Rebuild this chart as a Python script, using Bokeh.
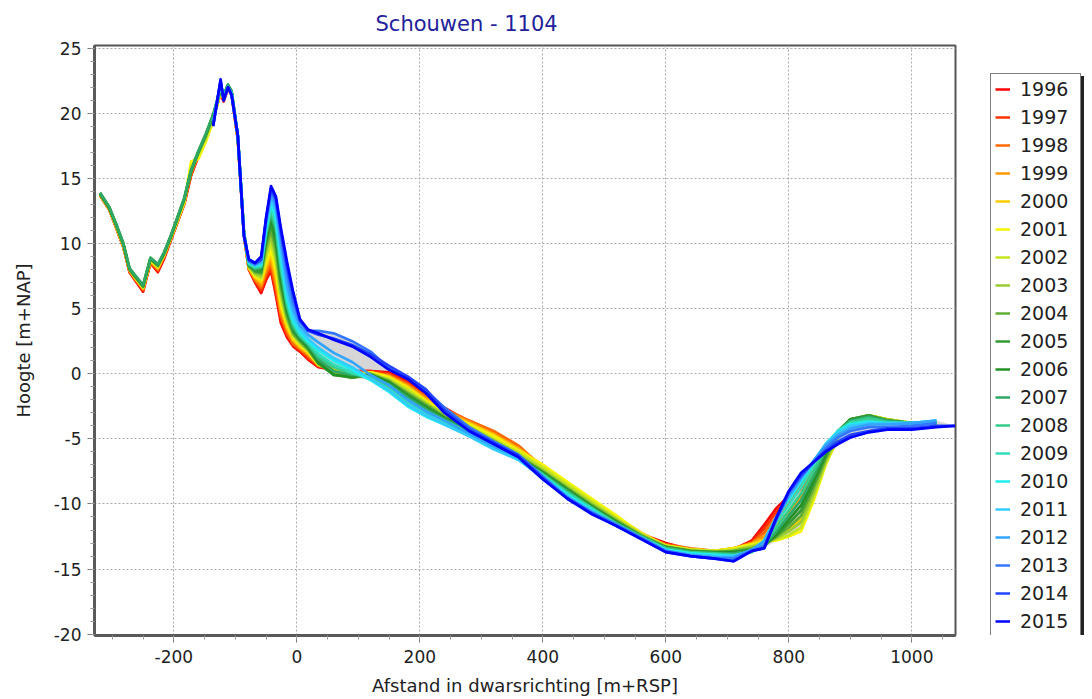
import numpy as np
from bokeh.plotting import figure
from bokeh.layouts import row
from bokeh.models import Range1d, FixedTicker, Legend, LegendItem, PrintfTickFormatter
from bokeh.embed import file_html
from bokeh.resources import INLINE

# distance across the profile [m+RSP]
afstand = [-320, -305, -293, -282, -272, -262, -250, -238, -226, -216, -205, -195, -183, -172, -160, -148, -136, -124, -119, -112, -106, -96, -86,
           -78, -68, -58, -50, -42, -34, -26, -16, -6, 5, 18,
           35, 60, 90, 120, 150, 180, 210, 240, 280, 320, 360, 400, 440, 480, 520, 560, 600, 640, 680, 710, 740,
           760, 780, 800, 820, 840, 860, 880, 900, 930, 960, 1000, 1040, 1070]

years = [1996, 1997, 1998, 1999, 2000, 2001, 2002, 2003, 2004, 2005,
         2006, 2007, 2008, 2009, 2010, 2011, 2012, 2013, 2014, 2015]

colors = ["#ff0000", "#ff3300", "#ff6a00", "#ff9900", "#ffcc00", "#f5f500", "#c4e61e", "#99cc33", "#5fae33", "#339933",
          "#239023", "#2fa866", "#33cc88", "#33ddbb", "#1eeeee", "#33ccff", "#33a4ff", "#3377ff", "#2244ff", "#0000ff"]

h1996 = [13.7, 12.6, 11.1, 9.7, 7.8, 7.1, 6.3, 8.5, 7.8, 8.8, 10.2, 11.5, 13.0, 15.2, 16.7, 18.1, 19.6, 21.5, 20.9, 21.9, 21.4, 18.0, 10.6,
         8.0, 7.0, 6.2, 7.2, 7.9, 6.0, 3.9, 2.8, 2.1, 1.7, 1.1,
         0.5, 0.3, 0.2, 0.2, 0.1, -0.6, -1.6, -2.6, -3.7, -4.6, -5.7, -7.4, -8.8, -10.0, -11.3, -12.3, -13.0, -13.5, -13.6, -13.5, -12.8,
         -11.6, -10.3, -9.4, -8.4, -7.1, -5.6, -4.5, -3.8, -3.5, -3.6, -3.8, -3.7, None]
h1997 = [13.7, 12.6, 11.1, 9.7, 7.8, 7.2, 6.4, 8.5, 7.9, 8.9, 10.3, 11.6, 13.1, 15.3, 16.8, 18.1, 19.6, 21.6, 21.0, 21.9, 21.4, 18.0, 10.6,
         8.0, 7.1, 6.4, 7.4, 8.1, 6.3, 4.2, 3.0, 2.2, 1.8, 1.2,
         0.6, 0.3, 0.2, 0.2, 0.0, -0.7, -1.7, -2.7, -3.6, -4.5, -5.6, -7.3, -8.7, -10.0, -11.4, -12.4, -13.1, -13.5, -13.6, -13.5, -12.9,
         -11.9, -10.6, -9.6, -8.6, -7.2, -5.7, -4.6, -3.8, -3.5, -3.6, -3.8, -3.7, None]
h1998 = [13.7, 12.6, 11.2, 9.8, 7.9, 7.2, 6.5, 8.6, 8.0, 9.0, 10.3, 11.6, 13.2, 15.3, 16.8, 18.2, 19.7, 21.6, 21.1, 22.0, 21.5, 18.1, 10.7,
         8.1, 7.2, 6.6, 7.7, 8.4, 6.7, 4.5, 3.2, 2.3, 1.9, 1.4,
         0.6, 0.4, 0.1, 0.1, -0.1, -0.8, -1.8, -2.7, -3.6, -4.4, -5.5, -7.2, -8.6, -10.1, -11.6, -12.4, -13.1, -13.4, -13.6, -13.4, -13.0,
         -12.2, -11.0, -9.9, -8.8, -7.4, -5.9, -4.6, -3.8, -3.4, -3.6, -3.8, -3.7, None]
h1999 = [13.7, 12.6, 11.2, 9.8, 7.9, 7.3, 6.5, 8.6, 8.1, 9.0, 10.4, 11.7, 13.2, 15.6, 16.8, 18.0, 19.6, 21.6, 21.1, 22.0, 21.5, 18.1, 10.7,
         8.1, 7.3, 6.8, 8.0, 8.7, 7.1, 4.8, 3.4, 2.5, 2.0, 1.5,
         0.7, 0.4, 0.0, 0.1, -0.2, -0.9, -1.9, -2.8, -3.7, -4.6, -5.7, -7.1, -8.5, -9.9, -11.4, -12.3, -13.2, -13.5, -13.6, -13.4, -13.0,
         -12.5, -11.6, -10.6, -9.4, -7.8, -6.1, -4.7, -3.7, -3.3, -3.5, -3.8, -3.7, None]
h2000 = [13.8, 12.7, 11.2, 9.8, 8.0, 7.3, 6.6, 8.7, 8.1, 9.1, 10.4, 11.7, 13.2, 15.9, 16.6, 17.9, 19.5, 21.6, 21.1, 22.0, 21.5, 18.1, 10.7,
         8.1, 7.4, 7.0, 8.3, 9.1, 7.5, 5.1, 3.6, 2.6, 2.1, 1.6,
         0.7, 0.3, -0.1, 0.1, -0.2, -1.0, -2.0, -2.9, -3.8, -4.7, -5.8, -7.0, -8.4, -9.8, -11.0, -12.2, -13.2, -13.5, -13.6, -13.4, -13.1,
         -12.7, -12.4, -12.0, -11.2, -9.0, -6.8, -4.9, -3.7, -3.2, -3.5, -3.8, -3.8, None]
h2001 = [13.8, 12.7, 11.2, 9.8, 8.0, 7.3, 6.6, 8.7, 8.2, 9.1, 10.4, 11.6, 13.1, 16.3, 16.5, 17.8, 19.4, 21.7, 21.2, 22.1, 21.6, 18.2, 10.8,
         8.2, 7.5, 7.2, 8.6, 9.5, 8.0, 5.4, 3.8, 2.8, 2.2, 1.7,
         0.7, 0.2, -0.2, 0.1, -0.3, -1.1, -2.1, -3.0, -3.9, -4.8, -5.9, -7.0, -8.3, -9.6, -10.9, -12.3, -13.2, -13.5, -13.6, -13.4, -13.1,
         -12.9, -12.8, -12.5, -12.1, -9.8, -7.0, -4.9, -3.6, -3.2, -3.5, -3.8, -3.8, None]
h2002 = [13.8, 12.7, 11.3, 9.9, 8.0, 7.4, 6.6, 8.8, 8.2, 9.1, 10.5, 11.7, 13.3, 15.8, 16.8, 18.0, 19.6, 21.7, 21.2, 22.1, 21.6, 18.2, 10.8,
         8.2, 7.6, 7.3, 9.0, 10.0, 8.5, 5.8, 4.0, 2.9, 2.3, 1.8,
         0.7, 0.1, -0.3, 0.0, -0.4, -1.2, -2.2, -3.1, -4.0, -5.0, -6.0, -7.2, -8.5, -9.8, -11.1, -12.3, -13.2, -13.5, -13.6, -13.5, -13.2,
         -12.9, -12.7, -12.4, -11.8, -9.5, -6.9, -4.8, -3.6, -3.2, -3.5, -3.8, -3.8, None]
h2003 = [13.8, 12.7, 11.3, 9.9, 8.0, 7.4, 6.7, 8.8, 8.3, 9.2, 10.5, 11.8, 13.4, 15.6, 17.0, 18.2, 19.7, 21.8, 21.3, 22.1, 21.6, 18.2, 10.8,
         8.2, 7.7, 7.5, 9.4, 10.5, 9.0, 6.2, 4.2, 3.0, 2.4, 1.8,
         0.8, 0.0, -0.3, 0.0, -0.5, -1.4, -2.3, -3.2, -4.1, -5.1, -6.2, -7.4, -8.7, -10.0, -11.2, -12.4, -13.3, -13.6, -13.7, -13.6, -13.3,
         -13.0, -12.6, -12.1, -11.4, -9.2, -6.7, -4.7, -3.5, -3.2, -3.5, -3.8, -3.8, None]
h2004 = [13.8, 12.7, 11.3, 9.9, 8.0, 7.4, 6.7, 8.8, 8.3, 9.2, 10.5, 11.8, 13.4, 15.5, 17.0, 18.3, 19.8, 21.8, 21.3, 22.1, 21.6, 18.2, 10.8,
         8.3, 7.8, 7.7, 9.8, 11.0, 9.5, 6.6, 4.4, 3.1, 2.5, 1.9,
         0.8, 0.0, -0.3, 0.0, -0.6, -1.5, -2.4, -3.3, -4.2, -5.2, -6.3, -7.5, -8.8, -10.1, -11.3, -12.4, -13.3, -13.6, -13.7, -13.6, -13.4,
         -13.1, -12.5, -11.8, -10.9, -8.8, -6.5, -4.6, -3.5, -3.2, -3.6, -3.8, -3.8, None]
h2005 = [13.8, 12.7, 11.3, 9.9, 8.0, 7.4, 6.7, 8.8, 8.3, 9.2, 10.5, 11.8, 13.4, 15.5, 17.0, 18.3, 19.8, 21.8, 21.3, 22.1, 21.6, 18.2, 10.8,
         8.3, 7.9, 7.8, 10.1, 11.5, 10.0, 7.0, 4.7, 3.3, 2.6, 2.0,
         0.8, -0.1, -0.3, -0.1, -0.6, -1.6, -2.5, -3.4, -4.3, -5.3, -6.4, -7.6, -8.9, -10.2, -11.4, -12.5, -13.3, -13.6, -13.7, -13.7, -13.5,
         -13.2, -12.4, -11.5, -10.5, -8.5, -6.3, -4.5, -3.5, -3.2, -3.6, -3.8, -3.8, None]
h2006 = [13.9, 12.8, 11.4, 10.0, 8.1, 7.5, 6.8, 8.9, 8.4, 9.3, 10.6, 11.9, 13.5, 15.6, 17.1, 18.4, 19.9, 21.9, 21.4, 22.2, 21.7, 18.3, 10.9,
         8.3, 8.0, 8.0, 10.4, 11.9, 10.5, 7.4, 4.9, 3.4, 2.7, 2.1,
         0.9, -0.1, -0.2, -0.1, -0.7, -1.7, -2.6, -3.4, -4.3, -5.3, -6.4, -7.6, -8.9, -10.2, -11.4, -12.5, -13.4, -13.7, -13.8, -13.7, -13.6,
         -13.2, -12.3, -11.2, -10.1, -8.2, -6.1, -4.4, -3.5, -3.3, -3.6, -3.8, -3.8, None]
h2007 = [13.9, 12.8, 11.4, 10.0, 8.1, 7.5, 6.8, 8.9, 8.4, 9.3, 10.6, 11.9, 13.5, 15.6, 17.1, 18.4, 19.9, 22.0, 21.4, 22.2, 21.7, 18.3, 10.9,
         8.4, 8.0, 8.1, 10.6, 12.2, 10.9, 7.8, 5.1, 3.5, 2.8, 2.2,
         1.1, 0.2, -0.1, -0.2, -0.8, -1.8, -2.7, -3.5, -4.4, -5.4, -6.5, -7.7, -9.0, -10.3, -11.5, -12.5, -13.4, -13.7, -13.8, -13.8, -13.6,
         -13.2, -12.1, -10.9, -9.7, -7.9, -5.9, -4.4, -3.6, -3.3, -3.6, -3.8, -3.8, None]
h2008 = [None, None, None, None, None, None, None, None, None, None, None, None, None, None, None, None, 19.3, 22.2, 21.2, 22.0, 21.5, 18.3, 10.7,
         8.4, 8.1, 8.2, 10.8, 12.5, 11.2, 8.1, 5.3, 3.7, 2.9, 2.3,
         1.3, 0.5, 0.0, -0.3, -1.0, -2.0, -2.9, -3.6, -4.5, -5.5, -6.5, -7.7, -9.1, -10.3, -11.5, -12.5, -13.4, -13.7, -13.8, -13.9, -13.7,
         -13.1, -11.8, -10.5, -9.2, -7.5, -5.7, -4.4, -3.7, -3.4, -3.7, -3.8, -3.7, None]
h2009 = [None, None, None, None, None, None, None, None, None, None, None, None, None, None, None, None, 19.3, 22.2, 21.2, 22.0, 21.5, 18.3, 10.7,
         8.5, 8.2, 8.3, 11.0, 12.8, 11.6, 8.5, 5.6, 3.9, 3.0, 2.4,
         1.5, 0.7, 0.1, -0.4, -1.2, -2.2, -3.1, -3.7, -4.6, -5.6, -6.5, -7.8, -9.2, -10.4, -11.6, -12.6, -13.5, -13.8, -13.9, -14.0, -13.6,
         -13.0, -11.4, -10.1, -8.7, -7.1, -5.5, -4.4, -3.8, -3.6, -3.8, -3.8, -3.7, None]
h2010 = [None, None, None, None, None, None, None, None, None, None, None, None, None, None, None, None, 19.3, 22.3, 21.2, 22.0, 21.5, 18.3, 10.7,
         8.5, 8.3, 8.4, 11.2, 13.1, 12.0, 9.0, 5.9, 4.1, 3.2, 2.5,
         1.8, 1.0, 0.3, -0.5, -1.4, -2.5, -3.3, -3.9, -4.7, -5.7, -6.6, -7.9, -9.3, -10.5, -11.7, -12.6, -13.5, -13.8, -13.9, -14.0, -13.6,
         -12.8, -11.0, -9.7, -8.3, -6.8, -5.4, -4.4, -3.9, -3.7, -3.8, -3.8, -3.6, None]
h2011 = [None, None, None, None, None, None, None, None, None, None, None, None, None, None, None, None, 19.2, 22.3, 21.1, 22.0, 21.5, 18.3, 10.7,
         8.6, 8.3, 8.5, 11.4, 13.4, 12.4, 9.5, 6.3, 4.4, 3.4, 2.7,
         2.0, 1.2, 0.5, -0.4, -1.3, -2.4, -3.2, -3.9, -4.8, -5.8, -6.6, -8.0, -9.4, -10.6, -11.7, -12.6, -13.6, -13.9, -14.0, -14.0, -13.6,
         -12.8, -11.0, -9.5, -8.1, -6.7, -5.4, -4.5, -4.0, -3.8, -3.8, -3.8, -3.6, None]
h2012 = [None, None, None, None, None, None, None, None, None, None, None, None, None, None, None, None, 19.2, 22.4, 21.1, 22.0, 21.4, 18.3, 10.6,
         8.6, 8.4, 8.6, 11.6, 13.7, 12.8, 10.0, 6.9, 4.9, 3.7, 3.0,
         2.4, 1.6, 0.9, -0.1, -0.9, -2.0, -2.9, -3.6, -4.6, -5.6, -6.4, -8.1, -9.5, -10.6, -11.6, -12.6, -13.6, -13.9, -14.1, -14.1, -13.5,
         -12.9, -11.1, -9.4, -8.0, -6.7, -5.5, -4.7, -4.2, -3.9, -3.9, -3.8, -3.6, None]
h2013 = [None, None, None, None, None, None, None, None, None, None, None, None, None, None, None, None, 19.1, 22.4, 21.0, 22.0, 21.4, 18.3, 10.6,
         8.7, 8.4, 8.7, 11.8, 14.0, 13.2, 10.6, 7.7, 5.5, 4.0, 3.3,
         3.3, 3.1, 2.5, 1.7, 0.4, -0.4, -1.3, -2.6, -4.1, -5.2, -6.2, -7.9, -9.5, -10.7, -11.6, -12.6, -13.6, -14.0, -14.2, -14.2, -13.6,
         -13.2, -11.2, -9.2, -7.9, -6.8, -5.7, -4.9, -4.4, -4.1, -4.1, -4.0, -3.8, None]
h2014 = [None, None, None, None, None, None, None, None, None, None, None, None, None, None, None, None, 19.1, 22.5, 21.0, 22.0, 21.4, 18.3, 10.6,
         8.7, 8.5, 8.8, 11.9, 14.2, 13.4, 10.9, 8.2, 6.0, 4.1, 3.3,
         3.0, 2.7, 2.2, 1.5, 0.6, -0.2, -1.2, -2.8, -4.3, -5.3, -6.3, -8.0, -9.6, -10.7, -11.7, -12.7, -13.7, -14.0, -14.2, -14.4, -13.6,
         -13.4, -11.1, -9.1, -7.8, -6.8, -5.9, -5.2, -4.7, -4.4, -4.2, -4.2, -4.0, -4.0]
h2015 = [None, None, None, None, None, None, None, None, None, None, None, None, None, None, None, None, 19.0, 22.6, 21.0, 22.0, 21.4, 18.3, 10.6,
         8.8, 8.5, 9.0, 12.0, 14.4, 13.6, 11.2, 8.6, 6.3, 4.2, 3.4,
         3.1, 2.6, 2.1, 1.3, 0.3, -0.4, -1.5, -3.0, -4.4, -5.4, -6.4, -8.1, -9.6, -10.8, -11.7, -12.7, -13.7, -14.0, -14.2, -14.4, -13.6,
         -13.4, -11.0, -9.0, -7.6, -6.8, -6.0, -5.4, -4.9, -4.5, -4.3, -4.3, -4.1, -4.0]

series = [h1996, h1997, h1998, h1999, h2000, h2001, h2002, h2003, h2004, h2005,
          h2006, h2007, h2008, h2009, h2010, h2011, h2012, h2013, h2014, h2015]

FONT = "DejaVu Sans"
H = 698

p = figure(width=965, height=H, output_backend="svg", toolbar_location=None,
           x_range=Range1d(-329, 1071), y_range=Range1d(-20.1, 25.2),
           min_border_left=94, min_border_right=10, min_border_top=43, min_border_bottom=40,
           background_fill_color="white", border_fill_color="white")

p.title.text = "Schouwen - 1104"
p.title.align = "left"
p.title.offset = 281
p.title.standoff = 19
p.title.text_font = FONT
p.title.text_font_size = "21px"
p.title.text_font_style = "normal"
p.title.text_color = "#22229a"

x = np.array(afstand, dtype=float)
arr = np.array([[np.nan if v is None else v for v in s] for s in series], dtype=float)
lo = np.nanmin(arr, axis=0)
hi = np.nanmax(arr, axis=0)
p.varea(x=x, y1=lo, y2=hi, fill_color="#d6d6d6", fill_alpha=1.0)

for yr, col, rw in zip(years, colors, arr):
    m = ~np.isnan(rw)
    p.line(x[m], rw[m], line_color=col, line_width=2.7, line_join="round")

# axes
p.xaxis.ticker = FixedTicker(ticks=[-200, 0, 200, 400, 600, 800, 1000],
                             minor_ticks=list(range(-300, 1051, 50)))
p.yaxis.ticker = FixedTicker(ticks=list(range(-20, 26, 5)), minor_ticks=list(range(-20, 26)))
p.xaxis.formatter = PrintfTickFormatter(format="%d")
p.yaxis.formatter = PrintfTickFormatter(format="%d")
p.xaxis.axis_label = "Afstand in dwarsrichting [m+RSP]"
p.yaxis.axis_label = "Hoogte [m+NAP]"
for ax in (p.xaxis, p.yaxis):
    ax.axis_line_color = "#5a5a5a"
    ax.axis_line_width = 3
    ax.major_tick_line_color = "#777777"
    ax.minor_tick_line_color = "#999999"
    ax.major_tick_out = 7
    ax.major_tick_in = 0
    ax.minor_tick_out = 4
    ax.minor_tick_in = 0
    ax.major_label_text_font = FONT
    ax.major_label_text_font_size = "17px"
    ax.major_label_text_color = "#222222"
    ax.axis_label_text_font = FONT
    ax.axis_label_text_font_size = "18px"
    ax.axis_label_text_font_style = "normal"
    ax.axis_label_text_color = "#222222"
p.xaxis.major_label_standoff = 7
p.xaxis.axis_label_standoff = 9
p.yaxis.major_label_standoff = 6
p.yaxis.axis_label_standoff = 17

p.grid.grid_line_color = "#aaaaaa"
p.grid.grid_line_dash = "2 2"
p.grid.grid_line_width = 1
p.outline_line_color = "#555555"
p.outline_line_width = 2

# separate narrow figure that holds the legend, to the right of the chart;
# its ranges lie far away from the data, so only the legend is seen
q = figure(width=120, height=H, output_backend="svg", toolbar_location=None,
           x_range=Range1d(5000, 5001), y_range=Range1d(5000, 5001),
           min_border_left=0, min_border_right=0, min_border_top=43, min_border_bottom=40,
           x_axis_location=None, y_axis_location=None,
           background_fill_color="white", border_fill_color="white")
q.outline_line_color = None
q.grid.visible = False

keys = []
for col, rw in zip(colors, arr):
    m = ~np.isnan(rw)
    keys.append(q.line(x[m], rw[m], line_color=col, line_width=2.5))
m0 = ~np.isnan(arr[0])
ghost = q.line(x[m0], arr[0][m0], line_alpha=0)

common = dict(label_text_font=FONT, label_text_font_size="19px",
              glyph_width=15, glyph_height=20, label_height=22, label_width=56,
              label_standoff=10, spacing=6, padding=4, margin=0)

# drop shadow of the legend box (items without text)
shadow = Legend(items=[LegendItem(label="", renderers=[ghost]) for y in years],
                location=(28, -5), background_fill_color="#222222",
                background_fill_alpha=1, border_line_color="#222222", **common)
q.add_layout(shadow)

legend = Legend(items=[LegendItem(label=str(y), renderers=[k]) for y, k in zip(years, keys)],
                location=(25, -2), background_fill_color="white", background_fill_alpha=1,
                border_line_color="black", border_line_width=1,
                label_text_color="#222222", **common)
q.add_layout(legend)

open("out.html", "w").write(file_html(row(p, q), INLINE))
